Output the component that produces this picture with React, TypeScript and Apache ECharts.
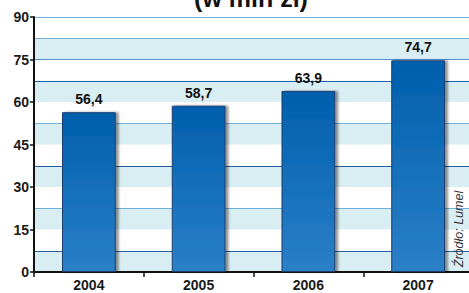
import React, { useEffect, useRef } from "react";
import * as echarts from "echarts";

const years = ["2004", "2005", "2006", "2007"];
const revenue = [56.4, 58.7, 63.9, 74.7];
const bandSteps = [0, 7.5, 15, 22.5, 30, 37.5, 45, 52.5, 60, 67.5, 75, 82.5, 90];
const titleText = "(w mln zł)";
const sourceText = "Źródło: Lumel";

const FONT = "'Liberation Sans', Arial, sans-serif";

export default function App() {
  const ref = useRef<HTMLDivElement>(null);
  useEffect(() => {
    const chart = echarts.init(ref.current!, null, { renderer: "svg" });
    const T = "rgba(0,0,0,0)";
    const lineColors = [T, "#1f5fa6", T, "#6fb0dc", T, "#1f5fa6", T, "#6fb0dc", T, "#1f5fa6", "#4f94d0", "#6fb0dc", "#6fb0dc"];
    chart.setOption({
      animation: false,
      backgroundColor: "#ffffff",
      title: {
        text: titleText,
        left: 246,
        textAlign: "center",
        top: -20,
        textStyle: { fontFamily: FONT, fontWeight: "bold", fontSize: 25, color: "#111" },
      },
      grid: { left: 34, top: 17, width: 439, height: 255, outerBoundsMode: "none" },
      xAxis: {
        type: "category",
        data: years,
        axisLine: { lineStyle: { color: "#111", width: 2 } },
        axisTick: { show: true, length: 5, lineStyle: { color: "#111", width: 1.5 } },
        axisLabel: { fontFamily: FONT, fontWeight: "bold", fontSize: 14, color: "#1a1a1a", margin: 6 },
      },
      yAxis: [
        {
          type: "value",
          min: 0,
          max: 90,
          interval: 15,
          axisLine: { show: true, lineStyle: { color: "#111", width: 2 } },
          axisTick: { show: true, length: 4, lineStyle: { color: "#111", width: 1.5 } },
          axisLabel: { fontFamily: FONT, fontWeight: "bold", fontSize: 14, color: "#1a1a1a", margin: 5 },
          splitLine: { show: false },
          z: 3,
        },
        {
          type: "value",
          min: bandSteps[0],
          max: bandSteps[bandSteps.length - 1],
          interval: 7.5,
          axisLine: { show: false },
          axisTick: { show: false },
          axisLabel: { show: false },
          splitArea: { show: true, areaStyle: { color: ["#d9eef2", "#ffffff"] } },
          splitLine: { show: true, lineStyle: { color: lineColors, width: 1.2 } },
        },
      ],
      graphic: [
        {
          type: "text",
          x: 459,
          y: 229,
          rotation: Math.PI / 2,
          style: {
            text: sourceText,
            fontFamily: FONT,
            fontStyle: "italic",
            fontSize: 12.5,
            fill: "#333",
            align: "center",
            verticalAlign: "middle",
          },
          z: 10,
        },
      ],
      series: [
        {
          type: "bar",
          data: revenue,
          yAxisIndex: 0,
          barWidth: "49%",
          z: 5,
          itemStyle: {
            color: new echarts.graphic.LinearGradient(0, 0, 0, 1, [
              { offset: 0, color: "#005fad" },
              { offset: 1, color: "#2b80c7" },
            ]),
            borderColor: "#1b3d6e",
            borderWidth: 1,
            shadowColor: "rgba(0,0,0,0.4)",
            shadowOffsetX: 3,
            shadowOffsetY: 0,
            shadowBlur: 2,
          },
          label: {
            show: true,
            position: "top",
            distance: 6,
            formatter: (p: any) => String(p.value).replace(".", ","),
            fontFamily: FONT,
            fontWeight: "bold",
            fontSize: 14,
            color: "#111",
          },
        },
      ],
    });
    return () => chart.dispose();
  }, []);
  return <div ref={ref} style={{ width: 469, height: 293, position: "absolute", left: 0, top: 0 }} />;
}
